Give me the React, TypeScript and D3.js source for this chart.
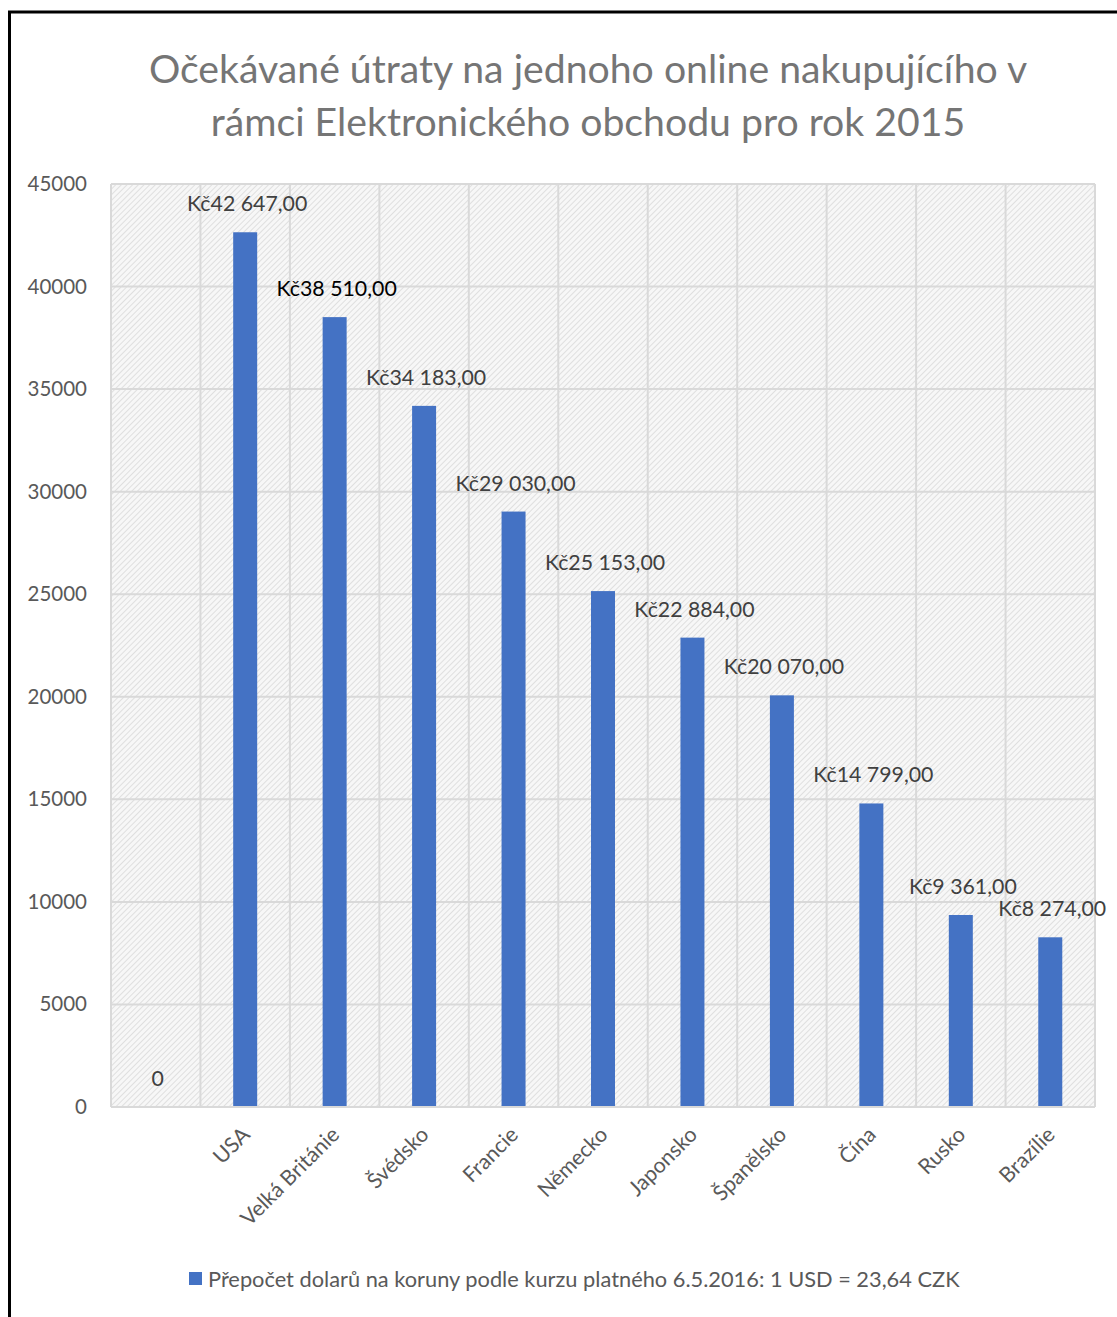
import React from "react";
import * as d3 from "d3";

const categories = ["", "USA", "Velká Británie", "Švédsko", "Francie", "Německo", "Japonsko", "Španělsko", "Čína", "Rusko", "Brazílie"];
const values = [0, 42647, 38510, 34183, 29030, 25153, 22884, 20070, 14799, 9361, 8274];
const yTicks = [0, 5000, 10000, 15000, 20000, 25000, 30000, 35000, 40000, 45000];
const titleLines = ["Očekávané útraty na jednoho online nakupujícího v", "rámci Elektronického obchodu pro rok 2015"];
const legendLabel = "Přepočet dolarů na koruny podle kurzu platného 6.5.2016: 1 USD = 23,64 CZK";

const W = 1117, H = 1317;
const plot = { left: 111, right: 1095, top: 184, bottom: 1107 };
const font = "Lato, Carlito, 'Open Sans', sans-serif";

const fmt = (v: number) => {
  if (v === 0) return "0";
  const s = d3.format(",.2f")(v).replace(/,/g, " ").replace(".", ",");
  return "Kč" + s;
};

export default function App() {
  const x = d3.scaleBand<string>().domain(categories.map((c, i) => i + "|" + c)).range([plot.left, plot.right]).paddingInner(0).paddingOuter(0);
  const y = d3.scaleLinear().domain([0, 45000]).range([plot.bottom, plot.top]);
  const keys = x.domain();
  const bw = 24;
  const grid = "#d9d9d9";
  return (
    <svg width={W} height={H} style={{ position: "absolute", left: 0, top: 0, background: "#fff" }}>
      <defs>
        <pattern id="hatch" width="4" height="4" patternUnits="userSpaceOnUse" patternTransform="rotate(45)">
          <rect width="4" height="4" fill="#f7f7f7" />
          <line x1="0" y1="0" x2="0" y2="4" stroke="#d8d8d8" strokeWidth="1.5" />
        </pattern>
      </defs>
      <rect x={0} y={0} width={W} height={H} fill="#fff" />
      <path d={`M9.5,${H + 5} L9.5,12 L${W + 5},12`} fill="none" stroke="#000" strokeWidth={3} />
      {titleLines.map((t, i) => (
        <text key={i} x={588} y={83 + i * 53} textAnchor="middle" fontFamily={font} fontSize={39.2} fill="#757575">{t}</text>
      ))}
      <rect x={plot.left} y={plot.top} width={plot.right - plot.left} height={plot.bottom - plot.top} fill="url(#hatch)" />
      {yTicks.map((t) => (
        <g key={t}>
          <line x1={plot.left} x2={plot.right} y1={y(t)} y2={y(t)} stroke={grid} strokeWidth={2} />
          <text x={87} y={y(t) + 7} textAnchor="end" fontFamily={font} fontSize={20.5} fill="#595959">{t}</text>
        </g>
      ))}
      {keys.map((k) => (
        <line key={k} x1={x(k)!} x2={x(k)!} y1={plot.top} y2={plot.bottom} stroke={grid} strokeWidth={2} />
      ))}
      <line x1={plot.right} x2={plot.right} y1={plot.top} y2={plot.bottom} stroke={grid} strokeWidth={2} />
      {keys.map((k, i) => {
        const cx = x(k)! + x.bandwidth() / 2;
        const v = values[i];
        return (
          <g key={"b" + k}>
            {v > 0 && <rect x={cx - bw / 2} y={y(v)} width={bw} height={plot.bottom - y(v) - 1} fill="#4472c4" />}
            <text x={cx + 2} y={v > 0 ? y(v) - 21 : plot.bottom - 21} textAnchor="middle" fontFamily={font} fontSize={21.3} fill={i === 2 ? "#000" : "#404040"}>{fmt(v)}</text>
            {categories[i] && (
              <text transform={`translate(${cx + 6},${plot.bottom + 29}) rotate(-45)`} textAnchor="end" fontFamily={font} fontSize={21.3} fill="#595959">{categories[i]}</text>
            )}
          </g>
        );
      })}
      <rect x={189} y={1272} width={13} height={13} fill="#4472c4" />
      <text x={208} y={1287} fontFamily={font} fontSize={21.8} fill="#595959">{legendLabel}</text>
    </svg>
  );
}
